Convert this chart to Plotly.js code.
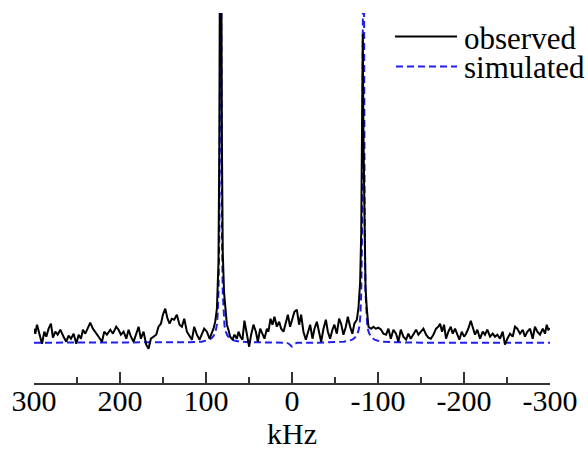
<!DOCTYPE html>
<html>
<head>
<meta charset="utf-8">
<script src="https://cdn.plot.ly/plotly-3.0.1.min.js"></script>
<style>
html,body{margin:0;padding:0;background:#fff;}#chart{width:588px;height:452px;}
</style>
</head>
<body>
<div id="chart"></div>
<script>
// observed spectrum (kHz, intensity in arbitrary units)
var obsKHz = [300,298.5,296.5,293.5,290.7,288.0,285.7,283.0,280.3,278.0,275.2,272.5,269.4,265.6,262.5,259.8,257.0,253.9,250.8,248.1,245.4,243.1,240.4,237.7,234.6,231.5,228.8,224.9,221.0,218.3,215.2,211.3,208.2,204.4,201.7,198.9,195.8,192.7,190.0,187.3,184.2,181.1,178.4,175.7,172.6,169.5,166.8,164.1,161.0,157.9,155.2,152.4,150.1,147.4,144.7,142.4,139.7,137.0,133.9,130.8,128.0,125.3,122.2,119.1,116.4,113.7,110.6,107.5,104.8,102.1,99.0,95.9,94.0,91.3,89.3,87.3,85.5,84.5,83.8,83.0,82.3,81.5,80.5,79,77.7,75.7,73.9,71.9,69.2,66.9,64.1,62.2,59.9,57.6,55.3,52.5,49.8,47.5,44.8,42.0,39.7,37.0,34.3,32.0,29.2,27.4,25.0,22.7,20.4,17.6,14.9,12.6,9.9,7.1,4.8,2.2,-0.5,-2.8,-5.6,-8.3,-10.6,-13.3,-16.1,-18.4,-21.1,-23.8,-26.1,-28.9,-31.6,-33.9,-36.6,-39.4,-41.7,-44.3,-47.0,-49.3,-52.1,-54.8,-57.1,-59.8,-62.6,-64.9,-67.6,-70.2,-72.5,-75.4,-77.2,-79.2,-80.5,-81.5,-82.3,-83.2,-84.3,-85.5,-87,-88.9,-92.0,-94.6,-97.4,-100.5,-103.6,-106.3,-109.4,-112.1,-114.9,-117.9,-121.0,-123.7,-126.5,-129.5,-132.7,-135.3,-138.1,-141.1,-144.3,-147.0,-149.7,-152.8,-155.9,-158.6,-161.4,-164.4,-167.5,-170.2,-172.2,-174.5,-176.8,-179.1,-181.8,-184.6,-186.9,-189.6,-192.3,-194.6,-197.4,-200.1,-202.4,-205.0,-207.9,-210.2,-212.8,-215.5,-218.6,-221.8,-224.4,-227.1,-230.3,-233.4,-236.0,-238.8,-241.9,-245.0,-247.6,-250.4,-253.5,-256.6,-259.3,-262.0,-265.1,-268.3,-270.9,-273.6,-276.8,-279.9,-282.5,-285.3,-288.4,-291.6,-294.2,-296.2,-298.1,-300];
var obsInt = [14,9,18,8,-1,11,6,14,19,5,11,8,13,6,1,7,4,9,-1,8,4,13,9,14,20,14,11,6,1,11,8,13,9,16,13,8,11,4,13,6,1,9,16,4,11,-2,-6,4,6,8,16,19,28,34,24,19,24,23,28,18,16,24,11,6,3,16,8,3,8,14,11,4,8,14,21,34,80,200,400,600,400,200,90,50,38,18,13,6,3,8,4,11,6,3,22,8,-4,8,18,11,1,14,9,4,14,11,24,18,26,16,21,14,11,19,28,16,24,31,33,18,28,11,3,9,18,4,14,21,9,1,14,23,11,4,13,18,9,24,19,8,16,26,16,9,19,23,34,60,110,200,309,200,100,55,34,16,14,16,14,15,13,9,8,14,4,13,9,1,13,6,3,9,4,9,13,8,11,14,8,5,4,8,14,16,19,11,18,4,11,16,9,14,8,3,11,6,9,14,22,14,8,13,4,11,8,13,6,9,6,8,4,11,-2,4,9,6,16,14,9,13,6,11,14,4,16,11,8,14,9,18,13,14];

// simulated spectrum
var simKHz = [300,150,120,105,100,96,93,91,89,87.5,86.5,85.5,84.5,83.8,83,82.2,81.5,80.5,79.5,78.5,77,75,73,70,66,60,50,30,6,3,0,-3,-6,-30,-50,-60,-66,-70,-73,-75,-77,-78.5,-79.5,-80.5,-81.5,-82.2,-83,-83.8,-84.5,-85.5,-86.5,-87.5,-89,-91,-93,-96,-100,-105,-120,-150,-300];
var simInt = [0,0,0.5,1,2,3,5,7,11,17,27,50,110,250,600,250,110,50,27,17,11,7,5,3,2,1,0.5,0,0,-1.5,-4,-1.5,0,0,0.5,1,2,3,5,7,11,17,27,50,110,250,600,250,110,50,27,17,11,7,5,3,2,1,0.5,0,0];

var tickVals = [300,200,100,0,-100,-200,-300];
var tickText = ['300','200','100','0','-100','-200','-300'];
var minorVals = [250,150,50,-50,-150,-250];
var seriesNames = ['observed','simulated'];

var FONT = 'Liberation Serif';
var W = 588, H = 452, L = 34, R = 38, T = 13, B = 20;
var AXIS_Y = 383, LABEL_AXIS_Y = 380;
var pw = W - L - R, ph = H - T - B;
var yDomLo = (H - B - AXIS_Y) / ph;
function px(x){ return (x - L) / pw; }
function py(y){ return (H - B - y) / ph; }

var traces = [
  {x: simKHz, y: simInt, mode: 'lines', name: seriesNames[1],
   line: {color: '#1f1fee', width: 2, dash: '7px,4px'}, hoverinfo: 'skip'},
  {x: obsKHz, y: obsInt, mode: 'lines', name: seriesNames[0],
   line: {color: '#000000', width: 2}, hoverinfo: 'skip'},
  // invisible helper trace that carries the tick-label axis
  {x: [tickVals[0], tickVals[tickVals.length-1]], y: [0, 0], xaxis: 'x2', yaxis: 'y',
   mode: 'lines', line: {width: 0}, showlegend: false, hoverinfo: 'skip', opacity: 0}
];

var layout = {
  width: W, height: H,
  margin: {l: L, r: R, t: T, b: B, pad: 0},
  paper_bgcolor: '#ffffff', plot_bgcolor: '#ffffff',
  showlegend: false,
  font: {family: FONT, color: '#000', size: 30},
  xaxis: {
    range: [300, -300], showgrid: false, zeroline: false,
    showline: true, linecolor: '#333', linewidth: 1.5,
    ticks: 'inside', ticklen: 11, tickwidth: 1.5, tickcolor: '#333',
    tickmode: 'array', tickvals: tickVals, showticklabels: false,
    minor: {tickvals: minorVals, ticks: 'inside', ticklen: 6, tickwidth: 1.5, tickcolor: '#333', showgrid: false}
  },
  xaxis2: {
    overlaying: 'x', matches: 'x', anchor: 'free', position: py(LABEL_AXIS_Y), side: 'bottom',
    range: [300, -300], showgrid: false, zeroline: false, showline: false, ticks: '',
    tickmode: 'array', tickvals: tickVals, ticktext: tickText,
    tickfont: {family: FONT, size: 30, color: '#000'},
    title: {text: 'kHz', font: {family: FONT, size: 30, color: '#000'}, standoff: 0}
  },
  yaxis: {domain: [yDomLo, 1], range: [-40.3, 329.7], visible: false, showgrid: false, zeroline: false},
  shapes: [
    {type: 'line', xref: 'paper', yref: 'paper', x0: px(395), x1: px(457), y0: py(36.5), y1: py(36.5),
     line: {color: '#000', width: 2}},
    {type: 'line', xref: 'paper', yref: 'paper', x0: px(396), x1: px(457), y0: py(66.5), y1: py(66.5),
     line: {color: '#1f1fee', width: 2, dash: '7px,4px'}}
  ],
  annotations: [
    {xref: 'paper', yref: 'paper', x: px(463), y: py(38), xanchor: 'left', yanchor: 'middle', borderpad: 0,
     text: seriesNames[0], showarrow: false, font: {family: FONT, size: 31, color: '#000'}},
    {xref: 'paper', yref: 'paper', x: px(463), y: py(68), xanchor: 'left', yanchor: 'middle', borderpad: 0,
     text: seriesNames[1], showarrow: false, font: {family: FONT, size: 31, color: '#000'}}
  ]
};

Plotly.newPlot('chart', traces, layout, {displayModeBar: false, staticPlot: true}).then(function(){
  var els = document.querySelectorAll('#chart text');
  for (var i = 0; i < els.length; i++) {
    els[i].style.fontFamily = "'Liberation Serif', 'DejaVu Serif', serif";
  }
});
</script>
</body>
</html>
